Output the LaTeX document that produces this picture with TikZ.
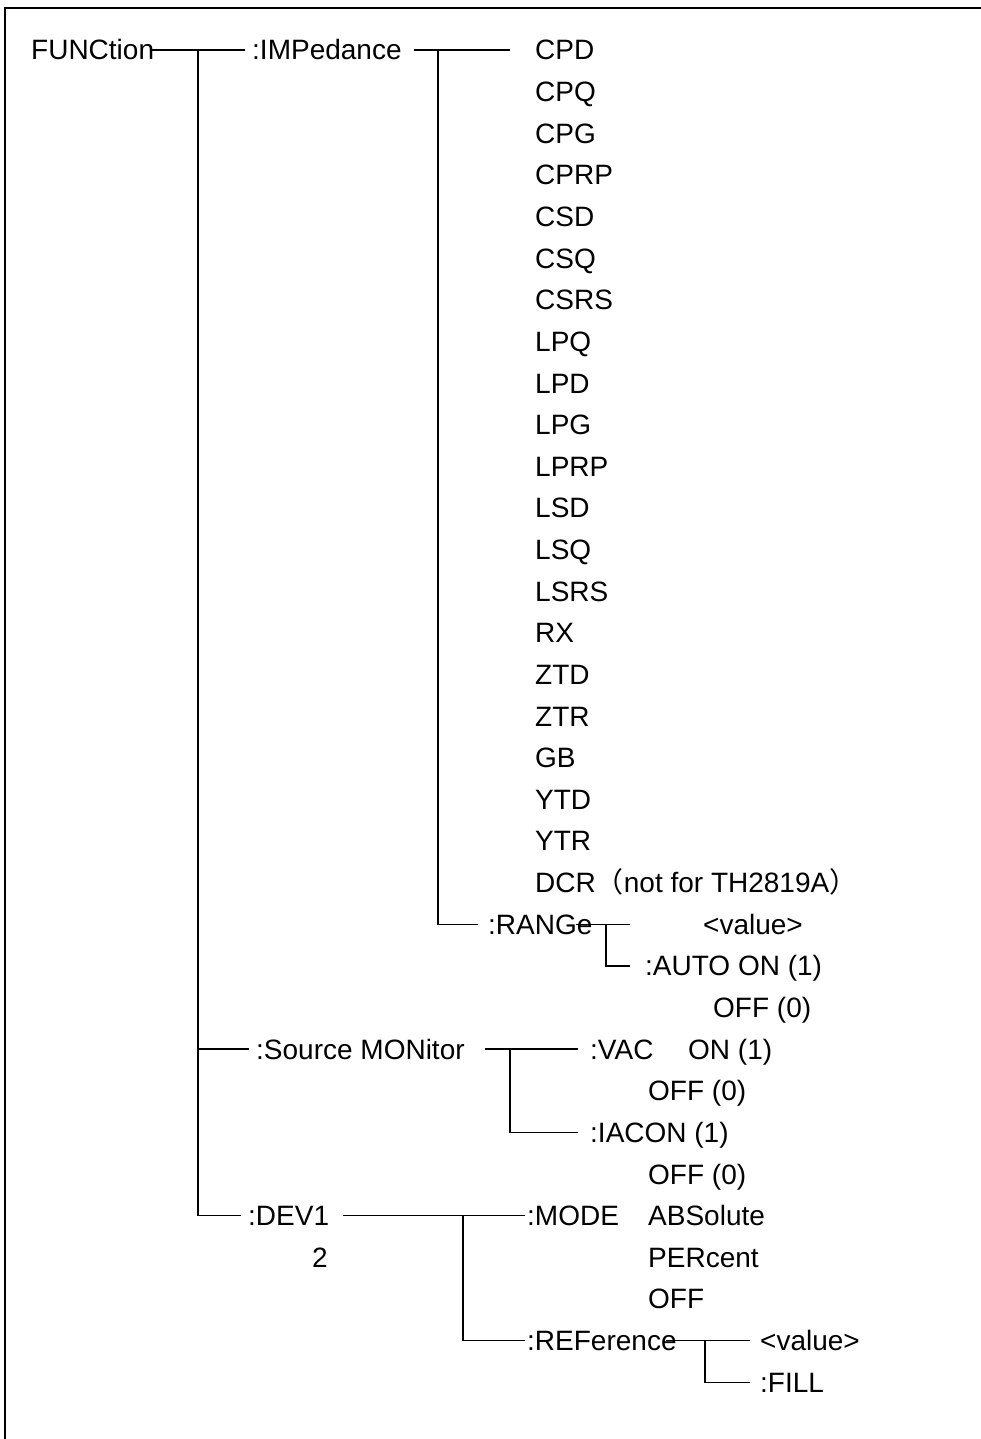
\documentclass[tikz,border=0pt]{standalone}
\usepackage{fontspec}
\setmainfont{Liberation Sans}
\newfontfamily\cjkfont{Noto Sans CJK SC}
\newcommand\rowy[1]{50+41.63*#1}
\tikzset{
  txt/.style={anchor=west, inner sep=0pt, text height=20pt, text depth=0pt,
              font=\fontsize{28}{34}\selectfont},
  conn/.style={draw=black, line width=1.3pt},
  frame/.style={draw=black, line width=2pt}
}
\begin{document}
\begin{tikzpicture}[x=1pt,y=-1pt]
\useasboundingbox (0,0) rectangle (981,1439);
% frame
\coordinate (fbl) at (5,1439);
\coordinate (ftl) at (5,8);
\coordinate (ftr) at (981,8);
\draw[frame] (fbl) -- (ftl) -- (ftr);

% level 0 / 1
\node[txt] (fun) at (31,{\rowy{0}}) {FUNCtion};
\node[txt] (imp) at (252,{\rowy{0}}) {:IMPedance};
\node[txt] (src) at (256,{\rowy{24}}) {:Source MONitor};
\node[txt] (dev) at (248,{\rowy{28}}) {:DEV1};
\node[txt] (two) at (312,{\rowy{29}}) {2};

% impedance list
\node[txt] (i0) at (535,{\rowy{0}}) {CPD};
\node[txt] (i1) at (535,{\rowy{1}}) {CPQ};
\node[txt] (i2) at (535,{\rowy{2}}) {CPG};
\node[txt] (i3) at (535,{\rowy{3}}) {CPRP};
\node[txt] (i4) at (535,{\rowy{4}}) {CSD};
\node[txt] (i5) at (535,{\rowy{5}}) {CSQ};
\node[txt] (i6) at (535,{\rowy{6}}) {CSRS};
\node[txt] (i7) at (535,{\rowy{7}}) {LPQ};
\node[txt] (i8) at (535,{\rowy{8}}) {LPD};
\node[txt] (i9) at (535,{\rowy{9}}) {LPG};
\node[txt] (i10) at (535,{\rowy{10}}) {LPRP};
\node[txt] (i11) at (535,{\rowy{11}}) {LSD};
\node[txt] (i12) at (535,{\rowy{12}}) {LSQ};
\node[txt] (i13) at (535,{\rowy{13}}) {LSRS};
\node[txt] (i14) at (535,{\rowy{14}}) {RX};
\node[txt] (i15) at (535,{\rowy{15}}) {ZTD};
\node[txt] (i16) at (535,{\rowy{16}}) {ZTR};
\node[txt] (i17) at (535,{\rowy{17}}) {GB};
\node[txt] (i18) at (535,{\rowy{18}}) {YTD};
\node[txt] (i19) at (535,{\rowy{19}}) {YTR};
\node[txt] (i20) at (535,{\rowy{20}}) {DCR{\cjkfont （}not for TH2819A{\cjkfont ）}};

% range
\node[txt] (rng) at (488,{\rowy{21}}) {:RANGe};
\node[txt] (rval) at (703,{\rowy{21}}) {<value>};
\node[txt] (auto) at (645,{\rowy{22}}) {:AUTO ON (1)};
\node[txt] (aoff) at (713,{\rowy{23}}) {OFF (0)};

% source monitor
\node[txt] (vac) at (590,{\rowy{24}}) {:VAC};
\node[txt] (von) at (688,{\rowy{24}}) {ON (1)};
\node[txt] (voff) at (648,{\rowy{25}}) {OFF (0)};
\node[txt] (iac) at (590,{\rowy{26}}) {:IACON (1)};
\node[txt] (ioff) at (648,{\rowy{27}}) {OFF (0)};

% dev
\node[txt] (mode) at (527,{\rowy{28}}) {:MODE};
\node[txt] (abs) at (648,{\rowy{28}}) {ABSolute};
\node[txt] (per) at (648,{\rowy{29}}) {PERcent};
\node[txt] (moff) at (648,{\rowy{30}}) {OFF};
\node[txt] (ref) at (527,{\rowy{31}}) {:REFerence};
\node[txt] (refv) at (760,{\rowy{31}}) {<value>};
\node[txt] (fill) at (760,{\rowy{32}}) {:FILL};

% junctions
\coordinate (j1) at (198,{\rowy{0}});
\coordinate (j2) at (438,{\rowy{0}});
\coordinate (jr) at (606,{\rowy{21}});
\coordinate (js) at (510,{\rowy{24}});
\coordinate (jd) at (463,{\rowy{28}});
\coordinate (jf) at (705,{\rowy{31}});

% connectors
\draw[conn] ([xshift=-4pt]fun.east) -- ([xshift=-7pt]imp.west);
\draw[conn] (j1) |- ([xshift=-7pt]src.west);
\draw[conn] (j1) |- ([xshift=-7pt]dev.west);

\draw[conn] ([xshift=12pt]imp.east) -- ([xshift=-25pt]i0.west);
\draw[conn] (j2) |- ([xshift=-10pt]rng.west);

\draw[conn] ([xshift=-17pt]rng.east) -- ([xshift=-73pt]rval.west);
\draw[conn] (jr) |- ([xshift=-15pt]auto.west);

\draw[conn] ([xshift=20pt]src.east) -- ([xshift=-12pt]vac.west);
\draw[conn] (js) |- ([xshift=-12pt]iac.west);

\draw[conn] ([xshift=14pt]dev.east) -- ([xshift=-2pt]mode.west);
\draw[conn] (jd) |- ([xshift=-2pt]ref.west);

\draw[conn] ([xshift=-11pt]ref.east) -- ([xshift=-10pt]refv.west);
\draw[conn] (jf) |- ([xshift=-10pt]fill.west);
\end{tikzpicture}
\end{document}
